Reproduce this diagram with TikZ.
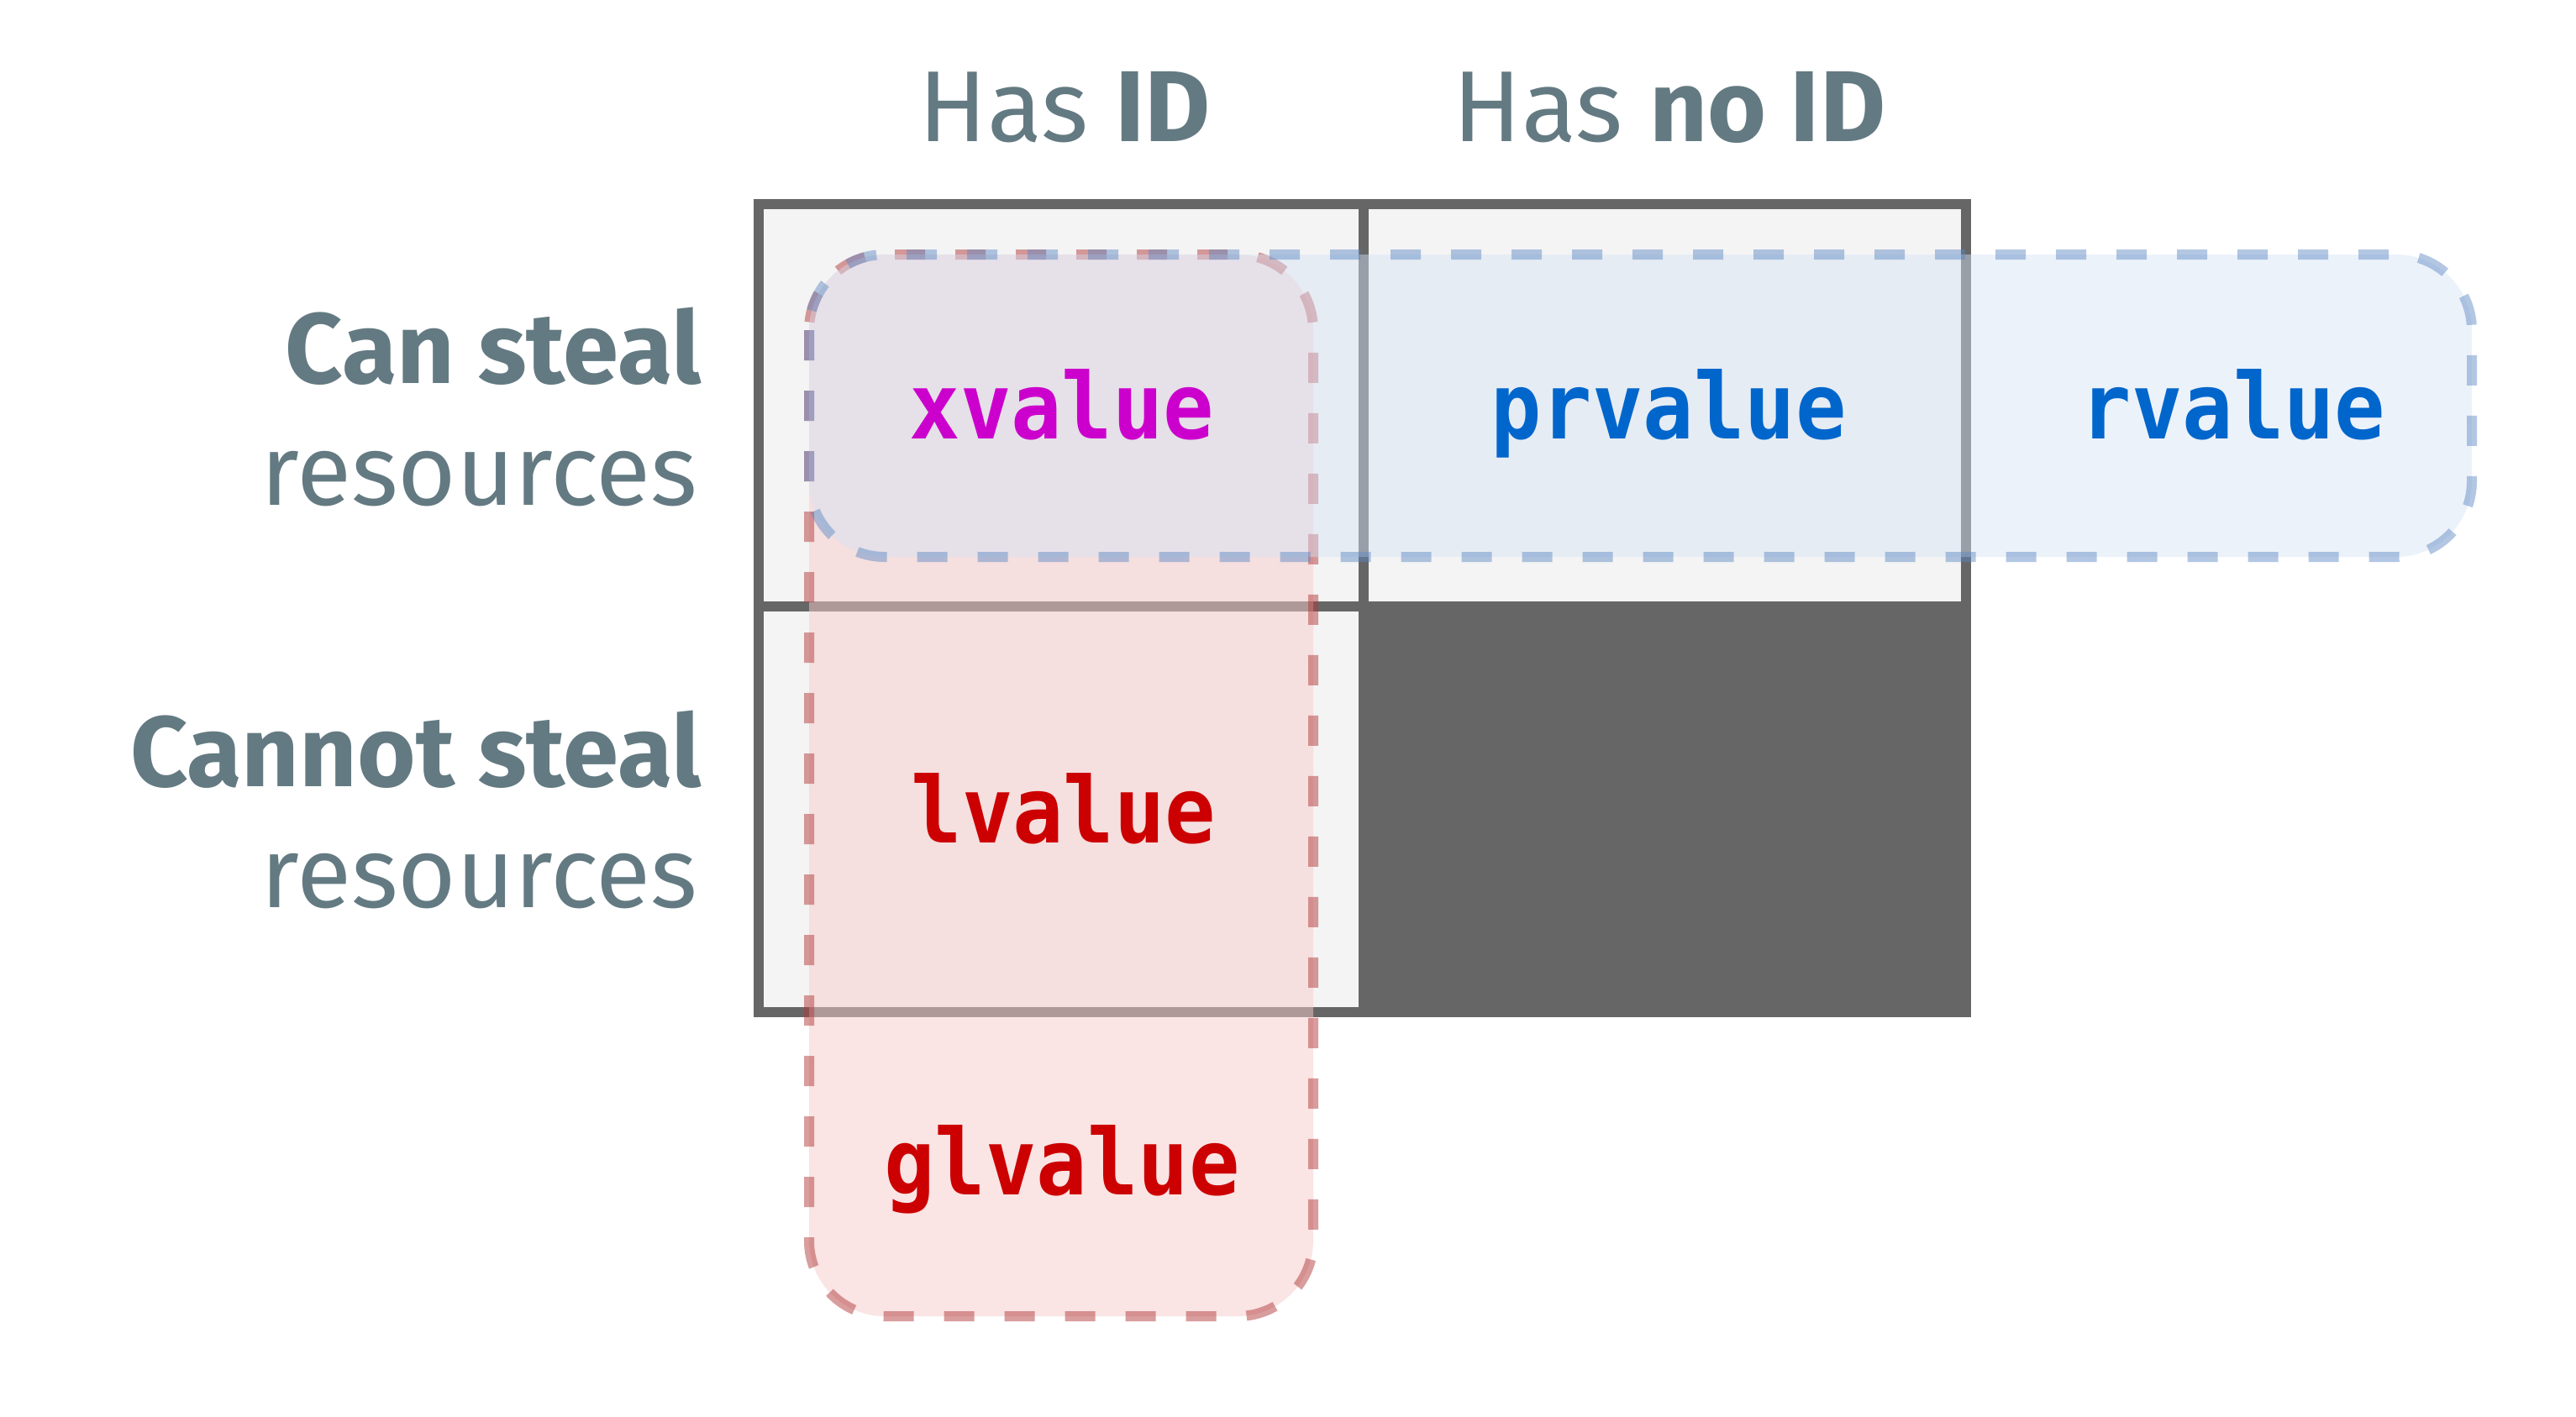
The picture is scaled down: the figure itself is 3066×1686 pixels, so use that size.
\documentclass[tikz,border=0pt]{standalone}
\usepackage{fontspec}
\setmainfont{Fira Sans}
\newfontfamily\codefont[FakeStretch=0.92]{DejaVu Sans Mono}
\definecolor{hdr}{HTML}{647A82}
\definecolor{gridline}{HTML}{666666}
\definecolor{cellfill}{HTML}{F4F4F4}
\definecolor{redfill}{RGB}{247,203,203}
\definecolor{redline}{RGB}{180,60,60}
\definecolor{bluefill}{RGB}{214,227,246}
\definecolor{blueline}{RGB}{90,135,195}
\definecolor{xcol}{HTML}{CC00CC}
\definecolor{bcol}{HTML}{0066CC}
\definecolor{rcol}{HTML}{CC0000}
\tikzset{
  cellbox/.style={fill=cellfill, draw=gridline, line width=3pt},
  darkbox/.style={fill=gridline, draw=gridline, line width=3pt},
  redgroup/.style={fill=redfill, fill opacity=0.5, draw=redline, draw opacity=0.5,
    line width=3pt, dash pattern=on 9pt off 9pt, rounded corners=22.5pt},
  bluegroup/.style={fill=bluefill, fill opacity=0.46, draw=blueline, draw opacity=0.46,
    line width=3pt, dash pattern=on 9pt off 9pt, rounded corners=22.5pt},
  hdrtext/.style={text=hdr, inner sep=0pt, anchor=base, font=\fontsize{30}{36}\selectfont},
  rowtext/.style={text=hdr, inner sep=0pt, anchor=base east, font=\fontsize{29.8}{36}\selectfont},
  codetext/.style={inner sep=0pt, anchor=base, font=\codefont\bfseries\fontsize{27.3}{32}\selectfont}
}
\begin{document}
\begin{tikzpicture}[x=0.25pt,y=-0.25pt]
\useasboundingbox (0,0) rectangle (3066,1686);
\fill[white] (0,0) rectangle (3066,1686);
% grid
\draw[cellbox] (903,243) rectangle (1623,722);
\draw[cellbox] (1623,243) rectangle (2340,722);
\draw[cellbox] (903,722) rectangle (1623,1205);
\draw[darkbox] (1623,722) rectangle (2340,1205);
% groups
\draw[redgroup] (963,303) rectangle (1563,1567);
\draw[bluegroup] (963,303) rectangle (2942,663);
% headers
\node[hdrtext] (hid) at (1267,168) {Has \textbf{ID}};
\node[hdrtext] (hnoid) at (1987,168) {Has \textbf{no ID}};
\node[rowtext] (cs) at (836,456) {\textbf{Can steal}};
\node[rowtext] (csr) at (831,601) {resources};
\node[rowtext] (ns) at (836,936) {\textbf{Cannot steal}};
\node[rowtext] (nsr) at (831,1080) {resources};
% labels
\node[codetext, text=xcol] (xv) at (1264,522) {xvalue};
\node[codetext, text=bcol] (prv) at (1986,522) {prvalue};
\node[codetext, text=bcol] (rv) at (2658,522) {rvalue};
\node[codetext, text=rcol] (lv) at (1266,1003) {lvalue};
\node[codetext, text=rcol] (glv) at (1264,1422) {glvalue};
\end{tikzpicture}
\end{document}
